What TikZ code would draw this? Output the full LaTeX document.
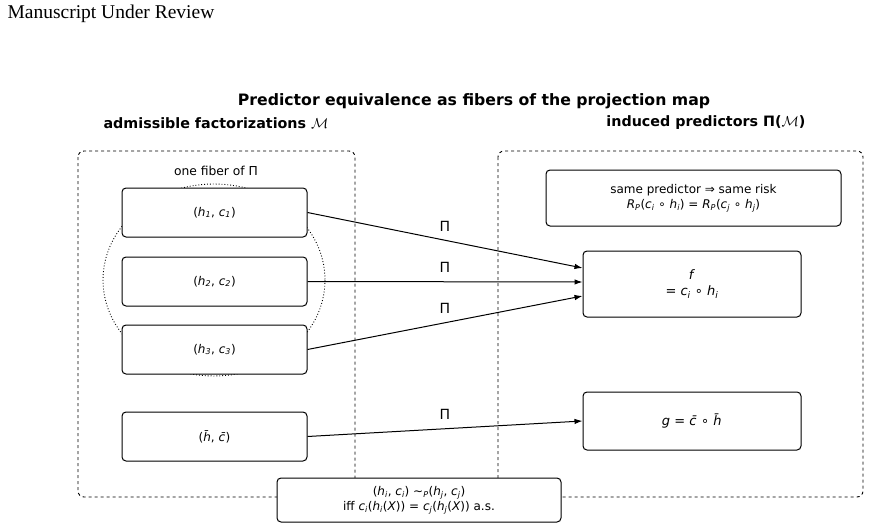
\documentclass[tikz,border=0pt]{standalone}
\usepackage{fontspec}
\setmainfont{DejaVu Sans}
\newfontfamily\serifhead{Liberation Serif}
\usetikzlibrary{arrows.meta}
\newcommand{\vi}[1]{\textit{#1}}
\newcommand{\vs}[2]{\textit{#1}\textsubscript{\textit{#2}}}
\begin{document}
\begin{tikzpicture}[x=1pt,y=-1pt,
  box/.style={draw,fill=white,rounded corners=4pt,line width=1pt,inner sep=0pt,font=\fontsize{12}{15}\selectfont,align=center},
  group/.style={draw,dashed,rounded corners=6pt,line width=0.9pt},
  arr/.style={-{Latex[length=8pt,width=5.5pt]},line width=1pt},
  lab/.style={font=\fontsize{14}{16}\selectfont}]
\useasboundingbox (0,0) rectangle (871,530);
\node[anchor=west,font=\serifhead\fontsize{19.5}{22}\selectfont] (ms) at (4,14) {Manuscript Under Review};
\node[font=\bfseries\fontsize{15.7}{18}\selectfont] (title) at (474,101) {Predictor equivalence as fibers of the projection map};
\node[font=\bfseries\fontsize{14.3}{17}\selectfont] (lh) at (216,123) {admissible factorizations $\mathcal{M}$};
\node[font=\bfseries\fontsize{14.3}{17}\selectfont] (rh) at (706,123) {induced predictors Π($\mathcal{M}$)};
\draw[group] (78,151) rectangle (355,497);
\draw[group] (498,151) rectangle (863,497);
\node[font=\fontsize{12.3}{15}\selectfont] (fib) at (216,171) {one fiber of Π};
\draw[dotted,line width=0.9pt] (214,280) ellipse [x radius=111,y radius=96];
\node[box,minimum width=185,minimum height=49] (a1) at (214.5,212.5) {(\vs{h}{1}, \vs{c}{1})};
\node[box,minimum width=185,minimum height=49] (a2) at (214.5,281.5) {(\vs{h}{2}, \vs{c}{2})};
\node[box,minimum width=185,minimum height=49] (a3) at (214.5,349.5) {(\vs{h}{3}, \vs{c}{3})};
\node[box,minimum width=185,minimum height=49] (a4) at (214.5,436.5) {(\vi{h̄}, \vi{c̄})};
\node[box,minimum width=295,minimum height=56] (risk) at (693.5,198) {same predictor ⇒ same risk\\ \vs{R}{P}(\vs{c}{i} ∘ \vs{h}{i}) = \vs{R}{P}(\vs{c}{j} ∘ \vs{h}{j})};
\node[box,minimum width=218,minimum height=66,font=\fontsize{13}{16}\selectfont] (f) at (692,284) {\vi{f}\\ = \vs{c}{i} ∘ \vs{h}{i}};
\node[box,minimum width=218,minimum height=58,font=\fontsize{13}{16}\selectfont] (g) at (692,421) {\vi{g} = \vi{c̄} ∘ \vi{h̄}};
\node[box,minimum width=284,minimum height=44] (eq) at (419,500) {(\vs{h}{i}, \vs{c}{i}) ∼\textsubscript{\vi{P}}(\vs{h}{j}, \vs{c}{j})\\ iff \vs{c}{i}(\vs{h}{i}(\vi{X})) = \vs{c}{j}(\vs{h}{j}(\vi{X})) a.s.};
\draw[arr] (a1.east) -- (f.west |- 0,268) node[lab,pos=0.5,above=5pt] {Π};
\draw[arr] (a2.east) -- (f.west |- 0,282) node[lab,pos=0.5,above=5pt] {Π};
\draw[arr] (a3.east) -- (f.west |- 0,296) node[lab,pos=0.5,above=5pt] {Π};
\draw[arr] (a4.east) -- (g.west) node[lab,pos=0.5,above=5pt] {Π};
\end{tikzpicture}
\end{document}
